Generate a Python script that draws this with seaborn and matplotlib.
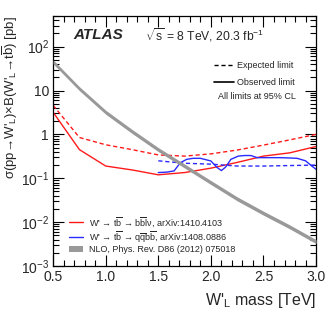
import numpy as np
import seaborn as sns
import matplotlib.pyplot as plt
from matplotlib.lines import Line2D
from matplotlib.patches import Patch
from matplotlib.ticker import MultipleLocator, LogLocator, FixedLocator, FixedFormatter, NullFormatter

# masses [TeV]
mass = [0.5, 0.75, 1.0, 1.25, 1.5, 1.75, 2.0, 2.25, 2.5, 2.75, 3.0]

# theory NLO cross section (band centre) [pb]
nlo_xsec = [45, 11, 3.2, 1.17, 0.45, 0.19, 0.08, 0.034, 0.016, 0.0078, 0.0036]
nlo_frac = 1.11

# lvbb channel, arXiv:1410.4103
lvbb_exp = [4.6, 0.85, 0.58, 0.45, 0.34, 0.32, 0.36, 0.44, 0.57, 0.75, 1.0]
lvbb_obs = [3.2, 0.45, 0.19, 0.155, 0.12, 0.135, 0.17, 0.23, 0.32, 0.38, 0.53]

# qqbb channel, arXiv:1408.0886
qqbb_mass_exp = [1.5, 1.75, 2.0, 2.25, 2.5, 2.75, 3.0]
qqbb_exp = [0.25, 0.22, 0.21, 0.19, 0.19, 0.195, 0.2]
qqbb_mass_obs = [1.5, 1.58, 1.65, 1.71, 1.77, 1.83, 1.9, 2.0, 2.06, 2.1, 2.14,
                 2.19, 2.26, 2.32, 2.38, 2.44, 2.55, 2.66, 2.75, 2.82, 2.9, 2.96, 3.0]
qqbb_obs = [0.135, 0.138, 0.147, 0.227, 0.27, 0.285, 0.285, 0.248, 0.175, 0.15, 0.18,
            0.27, 0.32, 0.33, 0.33, 0.295, 0.295, 0.295, 0.29, 0.285, 0.25, 0.19, 0.16]

ytick_vals = [1e-3, 1e-2, 1e-1, 1, 10, 100]
ytick_labels = [r'$10^{-3}$', r'$10^{-2}$', r'$10^{-1}$', '1', '10', r'$10^{2}$']

sns.set_style('ticks')
plt.rcParams['font.family'] = ['Liberation Sans', 'DejaVu Sans']
plt.rcParams['mathtext.fontset'] = 'custom'
plt.rcParams['mathtext.rm'] = 'Liberation Sans'
plt.rcParams['mathtext.it'] = 'Liberation Sans:italic'
plt.rcParams['mathtext.bf'] = 'Liberation Sans:bold'

fig, ax = plt.subplots(figsize=(3.32, 3.19), dpi=100)
fig.subplots_adjust(left=0.16, right=0.952, top=0.95, bottom=0.166)

red = '#ff1a1a'
blue = '#2a2aff'
grey = '#999999'

nlo = np.array(nlo_xsec)
ax.fill_between(mass, nlo / nlo_frac, nlo * nlo_frac, color=grey, lw=0, zorder=3)

sns.lineplot(x=mass, y=lvbb_exp, ax=ax, color=red, lw=1)
ax.lines[-1].set_dashes([3, 2])
sns.lineplot(x=mass, y=lvbb_obs, ax=ax, color=red, lw=1)
sns.lineplot(x=qqbb_mass_exp, y=qqbb_exp, ax=ax, color=blue, lw=1)
ax.lines[-1].set_dashes([3, 2])
sns.lineplot(x=qqbb_mass_obs, y=qqbb_obs, ax=ax, color=blue, lw=1)

ax.set_yscale('log')
ax.set_xlim(0.5, 3.0)
ax.set_ylim(1e-3, 500)

ax.xaxis.set_major_locator(MultipleLocator(0.5))
ax.xaxis.set_minor_locator(MultipleLocator(0.1))
ax.yaxis.set_major_locator(FixedLocator(ytick_vals))
ax.yaxis.set_major_formatter(FixedFormatter(ytick_labels))
ax.yaxis.set_minor_locator(LogLocator(base=10, subs=np.arange(2, 10)))
ax.yaxis.set_minor_formatter(NullFormatter())
ax.tick_params(which='both', direction='in', top=True, right=True, labelsize=10, width=0.8, color='black')
ax.tick_params(which='major', length=8, pad=3)
ax.tick_params(which='minor', length=4)
for s in ax.spines.values():
    s.set_linewidth(0.9)
    s.set_color('black')

bbar = r'$\overline{\mathregular{b}}$'
qbar = r'$\overline{\mathregular{q}}$'
ax.set_xlabel(r"W'$_{\mathregular{L}}$ mass [TeV]", fontsize=11.5, loc='right')
ax.set_ylabel(r"σ(pp→W'$_{\mathregular{L}}$)×B(W'$_{\mathregular{L}}$→t" + bbar + ") [pb]",
              fontsize=9.5, loc='top')
ax.xaxis.set_label_coords(1.0, -0.1)
ax.yaxis.set_label_coords(-0.125, 1.0)

ax.text(0.076, 0.925, 'ATLAS', transform=ax.transAxes, fontsize=11, fontweight='bold',
        fontstyle='italic', va='center')
ax.text(0.35, 0.925, r'$\sqrt{\mathregular{s}}$ = 8 TeV, 20.3 fb$^{\mathregular{-1}}$',
        transform=ax.transAxes, fontsize=8.7, va='center')

lim_handles = [Line2D([], [], color='black', lw=1, dashes=[3, 2]),
               Line2D([], [], color='black', lw=1.2)]
leg1 = ax.legend(lim_handles, ['Expected limit', 'Observed limit'], loc='upper left',
                 bbox_to_anchor=(0.6, 0.835), frameon=False, fontsize=6.5,
                 handlelength=2.2, handletextpad=0.3, labelspacing=0.9, borderaxespad=0)
ax.add_artist(leg1)
ax.text(0.627, 0.676, 'All limits at 95% CL', transform=ax.transAxes, fontsize=6.5, va='center')

ch_handles = [Line2D([], [], color=red, lw=1), Line2D([], [], color=blue, lw=1),
              Patch(facecolor=grey, edgecolor='none')]
ch_labels = ["W' → t" + bbar + " → b" + bbar + "lν, arXiv:1410.4103",
             "W' → t" + bbar + " → q" + qbar + "b" + bbar + ", arXiv:1408.0886",
             'NLO, Phys. Rev. D86 (2012) 075018']
ax.legend(ch_handles, ch_labels, loc='lower left', bbox_to_anchor=(0.045, 0.032),
          frameon=False, fontsize=6.5, handlelength=1.6, handletextpad=0.7,
          labelspacing=0.05, borderaxespad=0)

fig.savefig('out.png', dpi=100)
